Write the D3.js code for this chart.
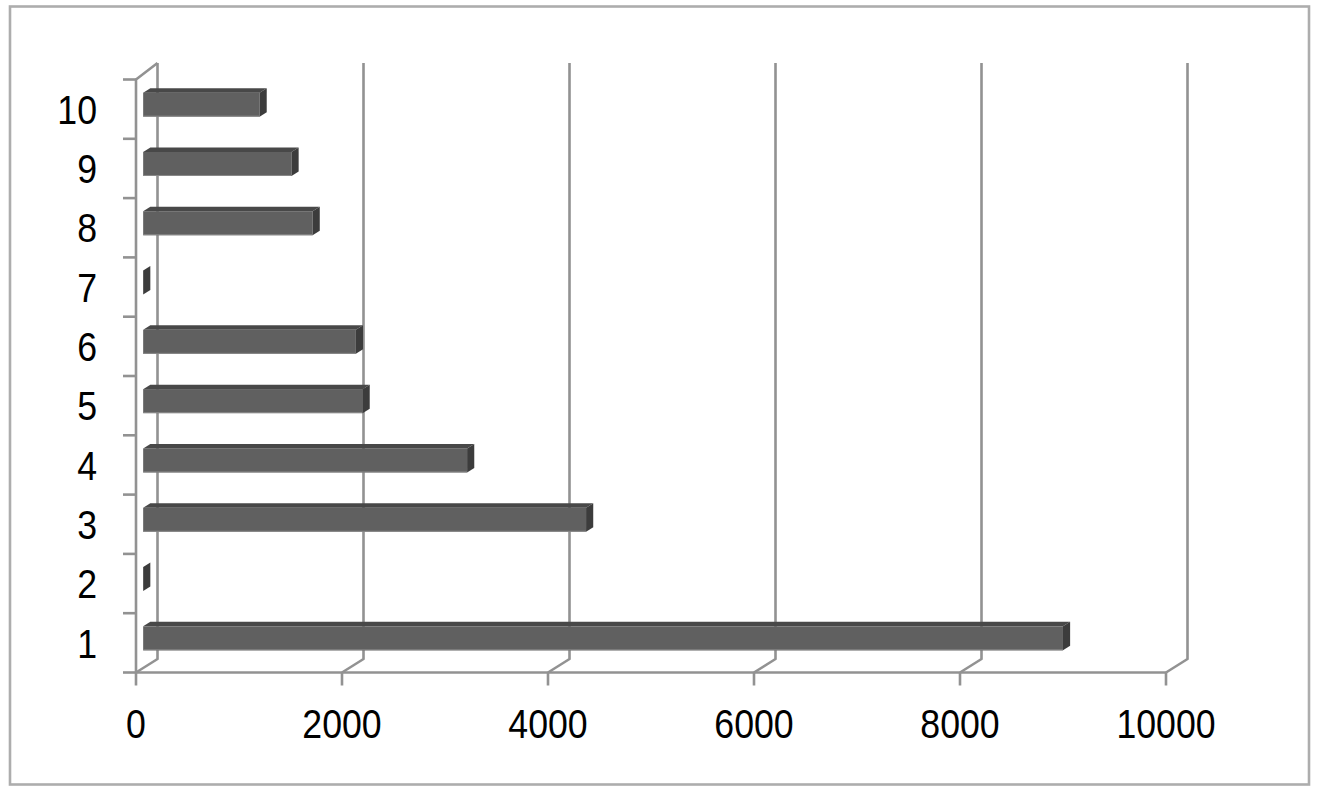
<!DOCTYPE html>
<html>
<head>
<meta charset="utf-8">
<script src="https://cdn.jsdelivr.net/npm/d3@7"></script>
<style>
html,body{margin:0;padding:0;background:#fff;}
svg{display:block;}
text{font-family:"Liberation Sans",Arial,sans-serif;fill:#000;}
</style>
</head>
<body>
<svg id="chart" width="1324" height="797"></svg>
<script>
// ---- data ----
const categories = ["1","2","3","4","5","6","7","8","9","10"];
const values = [8930, 0, 4300, 3145, 2130, 2065, 0, 1645, 1440, 1130];
const xTicks = [0, 2000, 4000, 6000, 8000, 10000];

// ---- layout ----
const W = 1324, H = 797;
const svg = d3.select("#chart");
const frontBottom = 672.5, frontTop = 79.5;
const backBottom = 659, backTop = 63;
const depthDX = 21.5, depthDY = -13.5;

const x = d3.scaleLinear().domain([0, 10000]).range([136, 1166]);
const y = d3.scaleBand().domain(categories).range([frontBottom, frontTop]);

const gridColor = "#929292";
const gridW = 2.6;

// outer border
svg.append("rect")
  .attr("x", 10).attr("y", 6.5).attr("width", 1299).attr("height", 778)
  .attr("fill", "#fff").attr("stroke", "#adadad").attr("stroke-width", 2.6);

const g = svg.append("g");

// back wall gridlines (vertical) + floor diagonals
xTicks.forEach(v => {
  const xf = x(v), xb = x(v) + depthDX;
  g.append("path")
    .attr("d", d3.line()([[xb, backTop], [xb, backBottom], [xf, frontBottom]]))
    .attr("fill", "none").attr("stroke", gridColor).attr("stroke-width", gridW)
    .attr("stroke-linejoin", "round");
});

// left side wall: front vertical axis + top edge
g.append("path")
  .attr("d", d3.line()([[x(0) + depthDX, backTop], [x(0), frontTop], [x(0), frontBottom], [x(10000), frontBottom]]))
  .attr("fill", "none").attr("stroke", gridColor).attr("stroke-width", gridW)
  .attr("stroke-linejoin", "round");

// y ticks
const yTickPos = categories.map(c => y(c) + y.bandwidth()).concat([y(categories[categories.length - 1])]);
yTickPos.forEach(p => {
  g.append("line").attr("x1", 123).attr("x2", x(0)).attr("y1", p).attr("y2", p)
    .attr("stroke", gridColor).attr("stroke-width", gridW);
});
// x ticks
xTicks.forEach(v => {
  g.append("line").attr("x1", x(v)).attr("x2", x(v)).attr("y1", frontBottom).attr("y2", 685.5)
    .attr("stroke", gridColor).attr("stroke-width", gridW);
});

// bars (3D boxes at depth 1/3 .. 2/3)
const t0 = 1/3, t1 = 2/3;
const ox = depthDX * t0, oy = depthDY * t0;
const ddx = depthDX * (t1 - t0), ddy = depthDY * (t1 - t0);
const barH = y.bandwidth() * 0.405;

const bars = g.selectAll("g.bar").data(categories.map((c, i) => ({c, v: values[i]})))
  .enter().append("g").attr("class", "bar");

bars.each(function(d) {
  const sel = d3.select(this);
  const cy = y(d.c) + y.bandwidth() / 2 + oy;
  const yt = cy - barH / 2, yb = cy + barH / 2;
  const x0 = x(0) + ox, x1 = x(d.v) + ox;
  if (x1 - x0 > 0.5) {
    // front face
    sel.append("rect").attr("x", x0).attr("y", yt).attr("width", x1 - x0).attr("height", yb - yt)
      .attr("fill", "#606060");
    // top face
    sel.append("path").attr("d", d3.line()([[x0, yt], [x1, yt], [x1 + ddx, yt + ddy], [x0 + ddx, yt + ddy]]) + "Z")
      .attr("fill", "#484848");
    // subtle lighter bottom edge
    sel.append("line").attr("x1", x0).attr("x2", x1).attr("y1", yb - 0.5).attr("y2", yb - 0.5)
      .attr("stroke", "#8a8a8a").attr("stroke-width", 1);
  }
  // side (end) face
  sel.append("path").attr("d", d3.line()([[x1, yt], [x1 + ddx, yt + ddy], [x1 + ddx, yb + ddy], [x1, yb]]) + "Z")
    .attr("fill", "#3c3c3c");
});

// labels
const fontSize = 41, sx = 0.87;
const capH = fontSize * 0.716;
xTicks.forEach(v => {
  svg.append("text")
    .attr("transform", `translate(${x(v)},${738}) scale(${sx},1)`)
    .attr("text-anchor", "middle").attr("font-size", fontSize)
    .text(v);
});
categories.forEach(c => {
  const cy = y(c) + y.bandwidth() / 2;
  svg.append("text")
    .attr("transform", `translate(${97},${cy + capH / 2}) scale(${sx},1)`)
    .attr("text-anchor", "end").attr("font-size", fontSize)
    .text(c);
});
</script>
</body>
</html>
